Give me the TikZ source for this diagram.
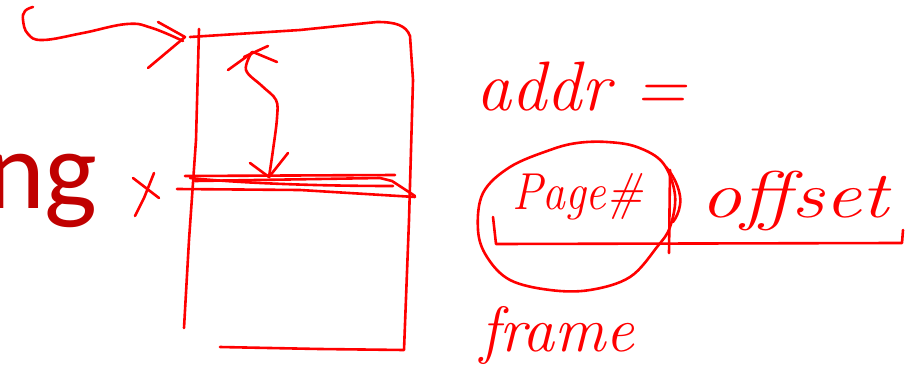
\documentclass[tikz,border=0pt]{standalone}
\usepackage{fontspec}
\newfontfamily\calib{Carlito}
\definecolor{ink}{HTML}{FF0000}
\definecolor{slide}{HTML}{C00000}
\begin{document}
\begin{tikzpicture}[x=1pt,y=-1pt,
  pen/.style={draw=ink,line width=2.6pt,line cap=round,line join=round},
  hand/.style={text=ink,inner sep=0pt,anchor=base west,font=\itshape}]
\clip (0,0) rectangle (909,364);
\fill[white] (0,0) rectangle (909,364);
% slide text fragment
\node[anchor=base west,inner sep=0pt,text=slide,font=\calib\fontsize{112}{120}\selectfont] (ng) at (-14,208) {ng};
% memory block
\draw[pen] (190,37) -- (300,30) -- (377,22) .. controls (395,22) and (406,25) .. (410,36) -- (413,80) -- (409,220) -- (404,350) -- (320,349) -- (220,347);
\draw[pen] (199,29) -- (196,140) -- (189,240) -- (184,328);
% entry lines
\draw[pen] (185,176) -- (395,175);
\draw[pen] (190,178) .. controls (250,184) and (330,186) .. (393,186);
\draw[pen] (195,181) -- (380,178) -- (392,181) -- (415,196);
\draw[pen] (177,189) -- (300,190) -- (415,197);
% incoming arrow
\draw[pen] plot[smooth,tension=0.7] coordinates {(33,7) (25,11) (23,20) (28,34) (43,40) (83,33) (127,24) (152,28) (183,41)};
\draw[pen] (158,22) -- (185,37) -- (148,68);
% offset arrow
\draw[pen] plot[smooth,tension=0.6] coordinates {(252,52) (246,70) (262,86) (276,100) (277,118) (273,150) (269,177)};
\draw[pen] (228,70) -- (253,52) -- (277,62);
\draw[pen] (244,57) -- (268,46);
\draw[pen] (250,163) -- (269,177) -- (288,153);
% x mark
\draw[pen] (133,178) -- (159,198);
\draw[pen] (154,173) -- (144,198) -- (135,216);
% right side text
\node[hand,font=\itshape\fontsize{70}{80}\selectfont] (addr) at (476,110) {addr =};
\node[hand,font=\itshape\fontsize{52}{60}\selectfont,xscale=0.88] (page) at (512,209) {Page\#};
\node[hand,font=\itshape\fontsize{66}{76}\selectfont,xscale=1.25] (off) at (700,217) {offset};
\node[hand,font=\itshape\fontsize{64}{72}\selectfont] (frame) at (480,351) {frame};
% circle around page number
\draw[pen] plot[smooth cycle,tension=0.6] coordinates {(607,142) (637,147) (663,163) (675,195) (670,227) (657,247) (630,277) (590,290) (550,290) (510,280) (487,257) (478,230) (483,193) (510,167) (550,150) (577,143)};
% separator
\draw[pen] (670,170) -- (669,253);
\draw[pen] (666,167) .. controls (676,178) and (682,195) .. (680,205) .. controls (679,212) and (676,218) .. (673,222);
% bracket
\draw[pen] (493,217) -- (496,244) -- (897,243) -- (902,243) -- (903,230);
\end{tikzpicture}
\end{document}
